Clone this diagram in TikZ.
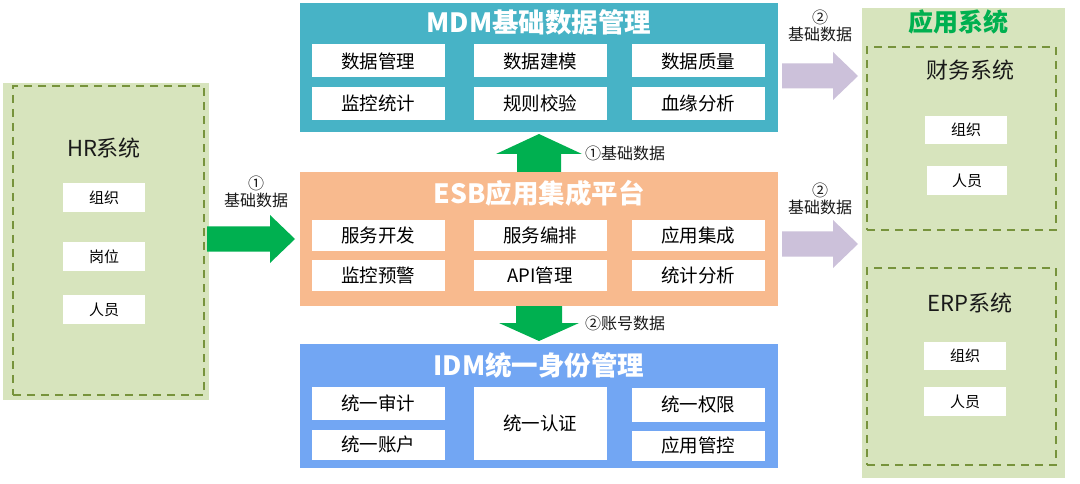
\documentclass[tikz,border=0pt]{standalone}
\usepackage{fontspec}
\setmainfont{Noto Sans CJK SC}
\usetikzlibrary{calc}
\definecolor{mdmc}{HTML}{47B3C6}
\definecolor{esbc}{HTML}{F8BA8E}
\definecolor{idmc}{HTML}{72A6F3}
\definecolor{lgreen}{HTML}{D7E4BD}
\definecolor{dgreen}{HTML}{77933C}
\definecolor{agreen}{HTML}{00B050}
\definecolor{apurple}{HTML}{CCC1DA}
\newcommand\fsz[1]{\fontsize{#1}{#1}\selectfont}
\newcommand\rarr[3]{% start, end, color (rightward)
  \fill[#3] ($(#1)+(0,-12.5)$) -- ($(#2)+(-25,-12.5)$) -- ($(#2)+(-25,-24)$) -- (#2)
    -- ($(#2)+(-25,24)$) -- ($(#2)+(-25,12.5)$) -- ($(#1)+(0,12.5)$) -- cycle;}
\begin{document}
\begin{tikzpicture}[x=1pt,y=-1pt,
  panel/.style={inner sep=0pt, outer sep=0pt, anchor=north west},
  gpanel/.style={panel, fill=lgreen},
  dpanel/.style={panel, draw=dgreen, line width=1.8pt, dash pattern=on 8pt off 6pt},
  wb/.style={fill=white, inner sep=0pt, minimum width=133, minimum height=33, font=\fsz{18.5}},
  sb/.style={fill=white, inner sep=0pt, minimum width=82, minimum height=29, font=\fsz{15}},
  ttl/.style={text=white, font=\bfseries\fsz{26.5}},
  stl/.style={text=black!90, font=\fsz{22}},
  lbl/.style={align=center, font=\fsz{16}, text=black!90, inner sep=0pt}]
\useasboundingbox (0,0) rectangle (1080,484);
\fill[white] (0,0) rectangle (1080,484);

% HR system
\node[gpanel, minimum width=206, minimum height=317] (hr) at (3,83) {};
\node[dpanel, minimum width=191, minimum height=309] (hrd) at (13,86) {};
\node[stl] (hrt) at (104,148) {HR系统};
\node[sb] (hr1) at (104,197.5) {组织};
\node[sb] (hr2) at (104,256.5) {岗位};
\node[sb] (hr3) at (104,309.5) {人员};

% MDM
\node[panel, fill=mdmc, minimum width=478, minimum height=129] (mdm) at (300,3) {};
\node[ttl] (mdmt) at (539,22) {MDM基础数据管理};
\node[wb] (m1) at (378,61) {数据管理};
\node[wb] (m2) at (540,61) {数据建模};
\node[wb] (m3) at (698,61) {数据质量};
\node[wb] (m4) at (378,103.5) {监控统计};
\node[wb] (m5) at (540,103.5) {规则校验};
\node[wb] (m6) at (698,103.5) {血缘分析};

% ESB
\node[panel, fill=esbc, minimum width=478, minimum height=134] (esb) at (300,172) {};
\node[ttl] (esbt) at (539,193) {ESB应用集成平台};
\node[wb, minimum height=31] (e1) at (378,235.5) {服务开发};
\node[wb, minimum height=31] (e2) at (540,235.5) {服务编排};
\node[wb, minimum height=31] (e3) at (698,235.5) {应用集成};
\node[wb, minimum height=31] (e4) at (378,275) {监控预警};
\node[wb, minimum height=31] (e5) at (540,275) {API管理};
\node[wb, minimum height=31] (e6) at (698,275) {统计分析};

% IDM
\node[panel, fill=idmc, minimum width=478, minimum height=124] (idm) at (300,344) {};
\node[ttl] (idmt) at (539,365) {IDM统一身份管理};
\node[wb, minimum height=33] (i1) at (378,403.5) {统一审计};
\node[wb, minimum height=30] (i2) at (378,444.5) {统一账户};
\node[wb, minimum height=73] (i3) at (540,423.5) {统一认证};
\node[wb, minimum height=34] (i4) at (698,404.5) {统一权限};
\node[wb, minimum height=30] (i5) at (698,445.5) {应用管控};

% Application systems
\node[gpanel, minimum width=203, minimum height=470] (app) at (862,8) {};
\node[text=agreen, font=\bfseries\fsz{25}] (appt) at (958,22) {应用系统};
\node[dpanel, minimum width=189, minimum height=183] (fin) at (867,47) {};
\node[stl] (fint) at (970,70) {财务系统};
\node[sb, minimum height=28] (f1) at (966,130) {组织};
\node[sb, minimum width=80] (f2) at (967,180.5) {人员};
\node[dpanel, minimum width=189, minimum height=197] (erp) at (867,268) {};
\node[stl] (erpt) at (970,303) {ERP系统};
\node[sb, minimum height=28] (r1) at (965,356) {组织};
\node[sb] (r2) at (965,401.5) {人员};

% arrows
\coordinate (a1s) at ($(hr.east |- esb.west)+(-2,0)$);
\coordinate (a1e) at ($(esb.west)+(-5,0)$);
\rarr{a1s}{a1e}{agreen}
\node[lbl] (a1l) at (256,192) {①\\[1pt]基础数据};

\coordinate (p1s) at ($(mdm.east |- 0,76)+(4,0)$);
\coordinate (p1e) at ($(app.west |- 0,76)+(-4,0)$);
\rarr{p1s}{p1e}{apurple}
\node[lbl] (p1l) at (820,26) {②\\[1pt]基础数据};

\coordinate (p2s) at ($(esb.east |- 0,244)+(4,0)$);
\coordinate (p2e) at ($(app.west |- 0,244)+(-4,0)$);
\rarr{p2s}{p2e}{apurple}
\node[lbl] (p2l) at (820,199) {②\\[1pt]基础数据};

% up arrow ESB -> MDM
\coordinate (us) at (esb.north);
\coordinate (ue) at ($(mdm.south)+(0,2)$);
\fill[agreen] ($(us)+(-22,0)$) -- ($(ue)+(-22,20)$) -- ($(ue)+(-43,20)$) -- (ue)
  -- ($(ue)+(43,20)$) -- ($(ue)+(22,20)$) -- ($(us)+(22,0)$) -- cycle;
\node[lbl, anchor=west] (ul) at (585,153) {①基础数据};

% down arrow ESB -> IDM
\coordinate (ds) at (esb.south);
\coordinate (de) at ($(idm.north)+(0,-3)$);
\fill[agreen] ($(ds)+(-23,0)$) -- ($(de)+(-23,-18)$) -- ($(de)+(-40,-18)$) -- (de)
  -- ($(de)+(40,-18)$) -- ($(de)+(23,-18)$) -- ($(ds)+(23,0)$) -- cycle;
\node[lbl, anchor=west] (dl) at (585,323) {②账号数据};
\end{tikzpicture}
\end{document}
